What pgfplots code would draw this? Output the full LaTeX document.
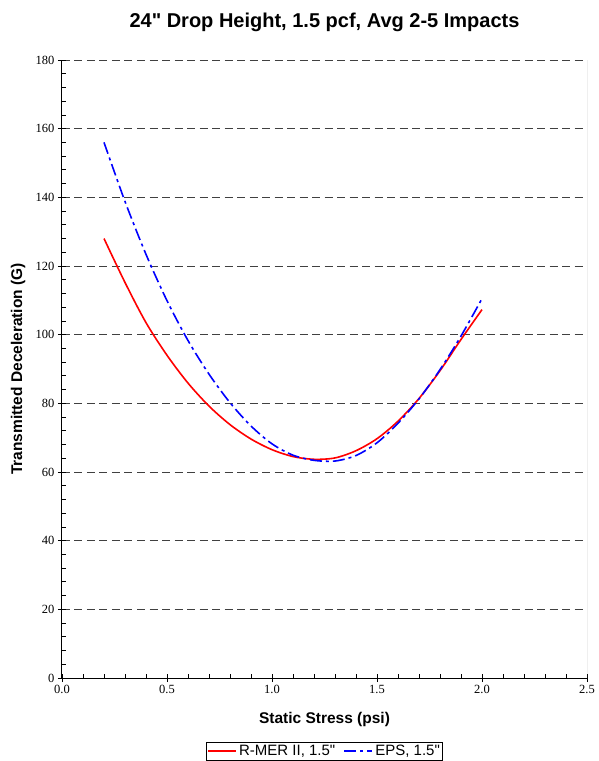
\documentclass[border=0pt]{standalone}
\usepackage{fontspec}
\setmainfont{Liberation Serif}
\newfontfamily\arial{Liberation Sans}
\usepackage{pgfplots}
\pgfplotsset{compat=1.18}
\begin{document}
\begin{tikzpicture}
\begin{axis}[
    scale only axis,
    width=525pt, height=618pt,
    xmin=0, xmax=2.5, ymin=0, ymax=180,
    xtick={0,0.5,...,2.5}, ytick={0,20,...,180},
    minor x tick num=4, minor y tick num=4,
    axis x line*=bottom, axis y line*=left,
    axis line style={-, black, line width=1pt},
    tick align=inside, major tick length=4pt, minor tick length=4pt,
    tick style={black, line width=0.8pt},
    extra x ticks={0,0.5,...,2.5}, extra x tick labels={},
    extra x tick style={tick align=outside, grid=none},
    extra y ticks={0,20,...,180}, extra y tick labels={},
    extra y tick style={tick align=outside, grid=none},
    ymajorgrids,
    major grid style={black!75, dash pattern=on 8pt off 4.5pt, line width=0.9pt},
    /pgf/number format/assume math mode=true,
    tick label style={font=\fontsize{12.5}{14}\selectfont},
    xticklabel style={yshift=-4pt, /pgf/number format/.cd, fixed, fixed zerofill, precision=1},
    yticklabel style={xshift=-4pt},
    title={24" Drop Height, 1.5 pcf, Avg 2-5 Impacts},
    title style={at={([yshift=32pt]axis description cs:0.5,1)}, anchor=center,
        font=\arial\bfseries\fontsize{20}{24}\selectfont},
    xlabel={Static Stress (psi)},
    xlabel style={at={([yshift=-41pt]axis description cs:0.5,0)}, anchor=center,
        font=\arial\bfseries\fontsize{15.5}{18}\selectfont},
    ylabel={Transmitted Deceleration (G)},
    ylabel style={at={([xshift=-44pt]axis description cs:0,0.5)}, anchor=center, rotate=0,
        font=\arial\bfseries\fontsize{15.5}{18}\selectfont},
    legend style={at={([yshift=-64pt]axis description cs:0.5,0)}, anchor=north,
        legend columns=2, draw=black, line width=0.8pt, inner sep=1pt,
        font=\arial\fontsize{15}{18}\selectfont,
        /tikz/every even column/.append style={column sep=6pt}},
    legend image code/.code={\draw[#1, line width=2pt] (0pt,0pt) -- (28pt,0pt);},
]
\draw[black!50, line width=0.8pt] (rel axis cs:1,0) -- (rel axis cs:1,1);
\addplot[red, line width=1.6pt, smooth] coordinates {
    (0.2,128) (0.3,115.2) (0.4,103.5) (0.5,94) (0.6,85.9) (0.7,79.2)
    (0.8,73.8) (0.9,69.6) (1.0,66.5) (1.1,64.5) (1.2,63.7) (1.3,64.1)
    (1.4,66.2) (1.5,69.7) (1.6,74.8) (1.7,81.4) (1.8,89.5) (1.9,98.6) (2.0,107.3)
};
\addlegendentry{R-MER II, 1.5"}
\addplot[blue, line width=1.6pt, smooth, dash pattern=on 12pt off 4pt on 3pt off 4pt] coordinates {
    (0.2,156) (0.3,138.8) (0.4,123.4) (0.5,109.9) (0.6,98.3) (0.7,88.5)
    (0.8,80.2) (0.9,73.4) (1.0,68.2) (1.1,64.9) (1.2,63.4) (1.3,63.2)
    (1.4,64.8) (1.5,68.5) (1.6,74.2) (1.7,81.3) (1.8,89.8) (1.9,99.6) (2.0,110.5)
};
\addlegendentry{EPS, 1.5"}
\end{axis}
\path[use as bounding box] (-62pt,-83pt) rectangle (533pt,678pt);
\end{tikzpicture}
\end{document}
